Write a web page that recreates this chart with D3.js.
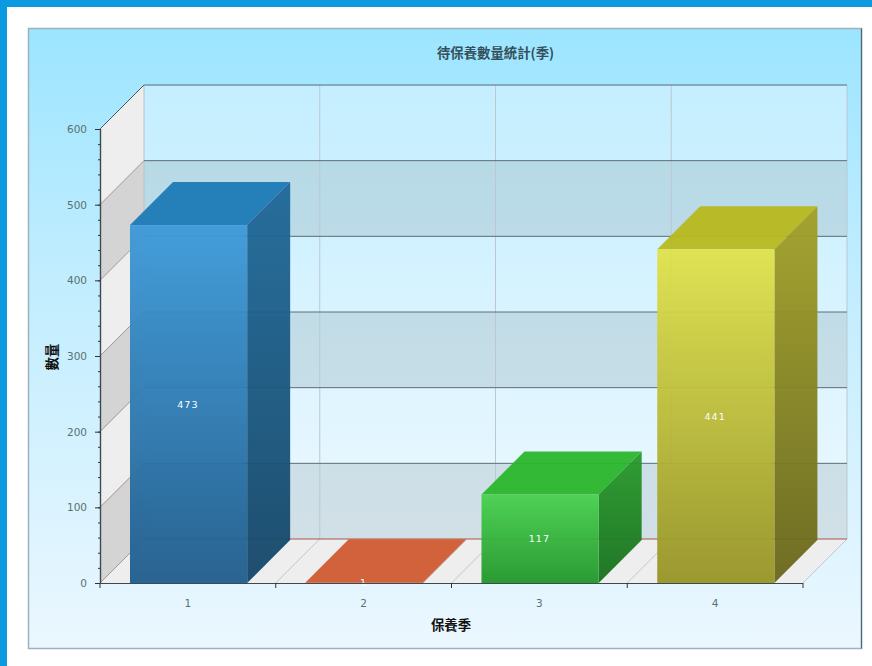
<!DOCTYPE html>
<html>
<head>
<meta charset="utf-8">
<style>
  html, body { margin: 0; padding: 0; background: #fff; }
  svg { display: block; }
  text { font-family: "DejaVu Sans", sans-serif; }
  .cjk { font-family: "Noto Sans CJK TC", sans-serif; font-weight: 700; fill: #111; }
</style>
<script src="https://cdn.jsdelivr.net/npm/d3@7"></script>
</head>
<body>
<script>
// chart data
var categories = ["1", "2", "3", "4"];
var values = [473, 1, 117, 441];
var yTicks = [0, 100, 200, 300, 400, 500, 600];
var minorTicks = d3.range(0, 601, 20);
var titleText = "待保養數量統計(季)";
var xTitle = "保養季";
var yTitle = "數量";

// front, side, top colours of each bar
var barTop = ["#3c99d8", "#d25a32", "#48d14d", "#e0e24a"];
var barBottom = ["#1f5c8c", "#c4562c", "#20962a", "#969426"];
var sideTop = ["#1f6898", "#a84a28", "#289a2a", "#a2a026"];
var sideBottom = ["#144668", "#a84a28", "#16701c", "#68661a"];
var topColor = ["#1c7ab6", "#d05a30", "#2ab62c", "#b8b81e"];

var svgWidth = 872;
var svgHeight = 666;

var plot = { left: 100, right: 803, top: 129, bottom: 583 };
var depth = 44;
var barDepth = 43;
var barShift = 0.7;

var svg = d3.select("body")
  .append("svg")
  .attr("width", svgWidth)
  .attr("height", svgHeight);

var defs = svg.append("defs");

function gradient(id, stops) {
  var g = defs.append("linearGradient")
    .attr("id", id)
    .attr("x1", 0).attr("y1", 0).attr("x2", 0).attr("y2", 1);
  stops.forEach(function(s) {
    g.append("stop").attr("offset", s[0]).attr("stop-color", s[1]);
  });
}

gradient("panelGrad", [[0, "#9ce5ff"], [0.35, "#bdecff"], [1, "#ebf7ff"]]);
gradient("wallGrad", [[0, "#c4eeff"], [1, "#ecf8ff"]]);
categories.forEach(function(c, i) {
  gradient("front" + i, [[0, barTop[i]], [1, barBottom[i]]]);
  gradient("side" + i, [[0, sideTop[i]], [1, sideBottom[i]]]);
});

// page frame
svg.append("rect").attr("width", svgWidth).attr("height", 7).attr("fill", "#0b9ae2");
svg.append("rect").attr("width", 7).attr("height", svgHeight).attr("fill", "#0b9ae2");

// chart panel
svg.append("rect")
  .attr("x", 28.5).attr("y", 28.5)
  .attr("width", 833).attr("height", 620)
  .attr("fill", "url(#panelGrad)")
  .attr("stroke", "#9db2bc")
  .attr("stroke-width", 1.5);
svg.append("path")
  .attr("d", "M861.5,28.5V648.5")
  .attr("fill", "none")
  .attr("stroke", "#4e6a76")
  .attr("stroke-width", 1.2);

// scales
var xScale = d3.scaleBand()
  .domain(categories)
  .range([plot.left, plot.right])
  .paddingInner(1 / 3)
  .paddingOuter(1 / 6);

var yScale = d3.scaleLinear()
  .domain([0, 600])
  .range([plot.bottom, plot.top]);

var bandStep = xScale.step();
var x0 = plot.left, x1 = plot.right, y0 = plot.bottom;

// back wall
svg.append("rect")
  .attr("x", x0 + depth).attr("y", yScale(600) - depth)
  .attr("width", x1 - x0).attr("height", y0 - yScale(600))
  .attr("fill", "url(#wallGrad)");

// darker alternate bands on the back wall and side wall
var bands = d3.pairs(yTicks).reverse();
bands.forEach(function(b, i) {
  var yA = yScale(b[1]), yB = yScale(b[0]);
  svg.append("rect")
    .attr("x", x0 + depth).attr("y", yA - depth)
    .attr("width", x1 - x0).attr("height", yB - yA)
    .attr("fill", "#6a8088")
    .attr("fill-opacity", i % 2 ? 0.2 : 0);
  svg.append("path")
    .attr("d", "M" + x0 + "," + yA + "L" + (x0 + depth) + "," + (yA - depth) +
      "V" + (yB - depth) + "L" + x0 + "," + yB + "Z")
    .attr("fill", i % 2 ? "#d4d4d4" : "#eeeeee");
});

// floor
svg.append("path")
  .attr("d", "M" + x0 + "," + y0 + "L" + (x0 + depth) + "," + (y0 - depth) +
    "H" + (x1 + depth) + "L" + x1 + "," + y0 + "Z")
  .attr("fill", "#eeeeee");

// vertical grid lines on wall and floor
d3.range(1, 5).forEach(function(i) {
  var gx = x0 + i * bandStep;
  svg.append("path")
    .attr("d", "M" + gx + "," + y0 + "L" + (gx + depth) + "," + (y0 - depth) +
      "V" + (yScale(600) - depth))
    .attr("fill", "none")
    .attr("stroke", "#bcc8ce")
    .attr("stroke-width", 1);
});

// wall edges
svg.append("path")
  .attr("d", "M" + (x0 + depth) + "," + (y0 - depth) + "V" + (yScale(600) - depth))
  .attr("fill", "none")
  .attr("stroke", "#b8c2c8");

// horizontal grid lines, the part on the side wall is a softer brown
yTicks.forEach(function(t) {
  var gy = yScale(t);
  svg.append("path")
    .attr("d", "M" + (x0 + depth) + "," + (gy - depth) + "H" + (x1 + depth))
    .attr("fill", "none")
    .attr("stroke", t === 0 ? "#a8544a" : (t === 600 ? "#7596a2" : "#5c6e74"))
    .attr("stroke-width", t === 600 ? 1.4 : 1);
  svg.append("path")
    .attr("d", "M" + x0 + "," + gy + "L" + (x0 + depth) + "," + (gy - depth))
    .attr("fill", "none")
    .attr("stroke", t === 600 ? "#4a5a60" : "#a89490");
});

// bars
var bar = svg.selectAll(".bar")
  .data(values)
  .enter()
  .append("g")
  .attr("class", "bar");

bar.append("path") // top face
  .attr("d", function(d, i) {
    var l = xScale(categories[i]) + barShift, w = xScale.bandwidth(), t = yScale(d);
    return "M" + l + "," + t + "L" + (l + barDepth) + "," + (t - barDepth) +
      "H" + (l + w + barDepth) + "L" + (l + w) + "," + t + "Z";
  })
  .attr("fill", function(d, i) { return topColor[i]; })
  .attr("fill-opacity", 0.95);

bar.append("path") // side face
  .attr("d", function(d, i) {
    var r = xScale(categories[i]) + barShift + xScale.bandwidth(), t = yScale(d);
    return "M" + r + "," + t + "L" + (r + barDepth) + "," + (t - barDepth) +
      "V" + (y0 - barDepth) + "L" + r + "," + y0 + "Z";
  })
  .attr("fill", function(d, i) { return "url(#side" + i + ")"; })
  .attr("fill-opacity", 0.95);

bar.append("rect") // front face
  .attr("x", function(d, i) { return xScale(categories[i]) + barShift; })
  .attr("y", function(d) { return yScale(d); })
  .attr("width", xScale.bandwidth())
  .attr("height", function(d) { return y0 - yScale(d); })
  .attr("fill", function(d, i) { return "url(#front" + i + ")"; })
  .attr("fill-opacity", 0.95);

bar.append("text")
  .attr("x", function(d, i) { return xScale(categories[i]) + xScale.bandwidth() / 2; })
  .attr("y", function(d) { return (yScale(d) + y0) / 2 + 3.5; })
  .attr("text-anchor", "middle")
  .attr("font-size", 9.5)
  .attr("letter-spacing", 1)
  .attr("fill", "#fff")
  .text(function(d) { return d; });

// axes
var leftAxis = d3.axisLeft(yScale).tickValues(yTicks).tickSize(5).tickPadding(8).tickFormat(d3.format("d"));
var minorAxis = d3.axisLeft(yScale).tickValues(minorTicks).tickSize(2).tickFormat("");
var bottomAxis = d3.axisBottom(xScale).tickSize(0).tickPadding(17);

var yAxisG = svg.append("g").attr("transform", "translate(" + plot.left + ",0)");
yAxisG.append("g").call(minorAxis);
yAxisG.append("g").call(leftAxis);

var xAxisG = svg.append("g")
  .attr("transform", "translate(0," + plot.bottom + ")")
  .call(bottomAxis);
xAxisG.select(".domain").attr("d", "M" + x0 + ",0.5H" + x1);

// x tick marks at the band boundaries
xAxisG.selectAll(".bound")
  .data(d3.range(0, 5))
  .enter()
  .append("line")
  .attr("class", "bound")
  .attr("x1", function(d) { return x0 + d * bandStep; })
  .attr("x2", function(d) { return x0 + d * bandStep; })
  .attr("y1", 0)
  .attr("y2", 5)
  .attr("stroke", "#333");

svg.selectAll(".domain").attr("stroke", "#3c4a50").attr("stroke-width", 1.2);
svg.selectAll(".tick line").attr("stroke", "#333");
svg.selectAll(".tick text").attr("font-size", 10.5).attr("fill", "#587270")
  .style("font-family", "'DejaVu Sans', sans-serif");

// titles
svg.append("text")
  .attr("class", "cjk")
  .attr("x", 495.5).attr("y", 58)
  .attr("text-anchor", "middle")
  .attr("font-size", 13.4)
  .style("fill", "#33505c")
  .text(titleText);

svg.append("text")
  .attr("class", "cjk")
  .attr("x", 451).attr("y", 630)
  .attr("text-anchor", "middle")
  .attr("font-size", 13.4)
  .text(xTitle);

svg.append("text")
  .attr("class", "cjk")
  .attr("transform", "translate(57,357) rotate(-90)")
  .attr("text-anchor", "middle")
  .attr("font-size", 13.4)
  .text(yTitle);
</script>
</body>
</html>
